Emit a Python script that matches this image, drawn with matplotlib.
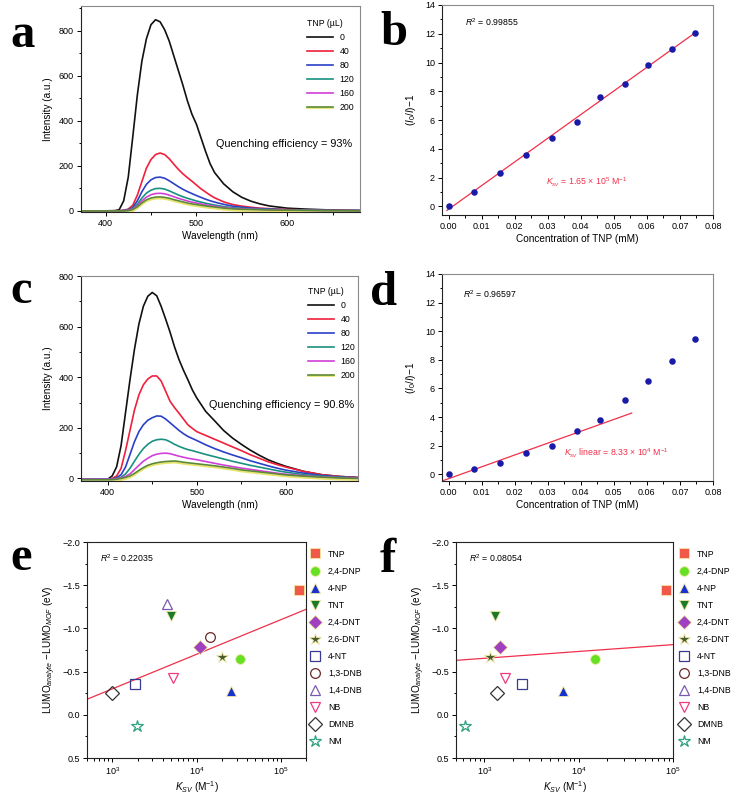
"""Fluorescence quenching by TNP: spectra, Stern-Volmer plots and LUMO vs Ksv."""
import numpy as np
import matplotlib
matplotlib.use("Agg")
import matplotlib.pyplot as plt
from matplotlib import patheffects as pe
from matplotlib.ticker import MultipleLocator, LogLocator, NullFormatter, FuncFormatter

plt.rcParams["font.family"] = ["Liberation Sans", "DejaVu Sans"]
plt.rcParams["mathtext.fontset"] = "custom"
plt.rcParams["mathtext.rm"] = "Liberation Sans"
plt.rcParams["mathtext.it"] = "Liberation Sans:italic"
plt.rcParams["mathtext.bf"] = "Liberation Sans:bold"

W, H = 734, 799

# ---- spectra (a, c) ----
tnp_ul = ["0", "40", "80", "120", "160", "200"]
spec_colors = ["#111111", "#f0203c", "#2a40c8", "#1a9080", "#d040d8", "#5c8a34"]

wl_a = [373, 400, 410, 415, 420, 425, 430, 435, 440, 445, 450, 455, 460, 465, 470, 475, 480, 485,
        490, 495, 500, 505, 510, 515, 520, 530, 540, 550, 560, 570, 580, 600, 620, 640, 660, 680]
int_a_0 = [0, 0, 1, 5, 45, 150, 330, 515, 665, 765, 827, 849, 840, 805, 755, 690, 625, 560,
           490, 430, 385, 325, 265, 210, 170, 120, 85, 60, 43, 31, 22, 12, 8, 5, 3, 2]
int_a_40 = [0, 0, 0, 1, 3, 8, 25, 70, 130, 190, 228, 250, 257, 250, 232, 208, 185, 165,
            148, 132, 115, 98, 84, 70, 58, 40, 28, 21, 16, 12, 10, 6, 4, 3, 2, 1]
int_a_80 = [0, 0, 0, 0, 2, 5, 15, 45, 85, 118, 138, 148, 150, 145, 134, 121, 108, 96,
            86, 77, 68, 60, 52, 45, 39, 29, 21, 16, 12, 10, 8, 5, 3, 2, 1, 1]
int_a_120 = [0, 0, 0, 0, 1, 3, 10, 30, 57, 79, 92, 99, 100, 97, 89, 80, 71, 63,
             56, 50, 44, 39, 34, 30, 26, 19, 14, 11, 9, 7, 6, 4, 3, 2, 1, 1]
int_a_160 = [0, 0, 0, 0, 1, 2, 8, 23, 44, 61, 72, 77, 78, 76, 70, 63, 56, 50,
             44, 39, 35, 31, 27, 24, 21, 15, 11, 9, 7, 6, 5, 3, 2, 1, 1, 1]
int_a_200 = [0, 0, 0, 0, 0, 1, 6, 18, 35, 49, 57, 61, 62, 60, 56, 50, 45, 40,
             35, 31, 28, 25, 22, 19, 17, 12, 9, 7, 6, 5, 4, 3, 2, 1, 1, 0]

wl_c = [370, 400, 405, 410, 415, 420, 425, 430, 435, 440, 445, 450, 455, 460, 465, 470, 475, 480,
        485, 490, 495, 500, 510, 520, 530, 540, 550, 560, 570, 580, 590, 600, 620, 640, 660, 680]
int_c_0 = [-3, -3, 10, 46, 130, 260, 390, 510, 610, 680, 720, 735, 722, 680, 630, 578, 520, 470,
           428, 390, 350, 318, 265, 228, 190, 160, 135, 112, 92, 74, 60, 48, 28, 15, 8, 4]
int_c_40 = [-3, -3, 0, 10, 40, 110, 190, 270, 330, 370, 393, 405, 405, 385, 345, 305, 280, 258,
            235, 212, 198, 185, 170, 155, 140, 125, 110, 94, 80, 66, 55, 45, 28, 15, 8, 4]
int_c_80 = [-3, -3, -2, 3, 15, 45, 95, 145, 185, 212, 230, 240, 247, 246, 235, 220, 205, 190,
            177, 166, 158, 150, 133, 118, 105, 93, 82, 70, 60, 50, 41, 33, 21, 12, 6, 3]
int_c_120 = [-3, -3, -3, 0, 5, 18, 40, 68, 95, 118, 135, 147, 153, 155, 153, 145, 135, 127,
             120, 114, 110, 105, 95, 86, 77, 68, 60, 52, 45, 38, 31, 25, 15, 9, 5, 2]
int_c_160 = [-3, -3, -3, -1, 2, 8, 18, 35, 52, 68, 80, 90, 96, 99, 100, 98, 93, 88,
             84, 80, 77, 74, 67, 60, 53, 47, 41, 36, 31, 26, 21, 17, 11, 6, 3, 1]
int_c_200 = [-5, -5, -5, -3, 0, 4, 10, 20, 32, 43, 52, 58, 62, 65, 67, 68, 69, 67,
             64, 62, 60, 58, 54, 50, 45, 40, 34, 30, 26, 22, 18, 14, 9, 5, 2, 0]

# ---- Stern-Volmer (b, d) ----
conc_tnp = [0.0, 0.0078, 0.0157, 0.0234, 0.0312, 0.0389, 0.0458, 0.0534, 0.0604, 0.0675, 0.0745]
sv_b = [0.0, 1.0, 2.31, 3.59, 4.75, 5.86, 7.57, 8.52, 9.84, 10.93, 12.04]
sv_d = [0.0, 0.35, 0.82, 1.47, 1.98, 3.06, 3.76, 5.16, 6.49, 7.93, 9.47]
fit_b = (164.5, -0.20)      # slope, intercept
fit_d = (82.8, -0.307)
fit_d_range = (-0.002, 0.0554)

# ---- LUMO difference vs Ksv (e, f) ----
analytes = ["TNP", "2,4-DNP", "4-NP", "TNT", "2,4-DNT", "2,6-DNT", "4-NT",
            "1,3-DNB", "1,4-DNB", "NB", "DMNB", "NM"]
lumo_diff = [-1.44, -0.646, -0.27, -1.146, -0.79, -0.673, -0.354,
             -0.904, -1.28, -0.43, -0.25, 0.135]
ksv_e = [1.63e5, 3.28e4, 2.54e4, 5.04e3, 1.1e4, 1.99e4, 1845,
         1.44e4, 4.48e3, 5.27e3, 1000, 1990]
ksv_f = [8.43e4, 1.5e4, 6.76e3, 1.3e3, 1.47e3, 1.16e3, 2.51e3,
         np.nan, np.nan, 1.67e3, 1.36e3, 630]
fit_e = (0.90, -0.40)       # intercept, slope vs log10(Ksv)
fit_f = (-0.417, -0.079)

mk_shape = ["s", "o", "^", "v", "D", "*", "s", "o", "^", "v", "D", "*"]
mk_color = ["#f0584a", "#66e022", "#1830d0", "#1a7a2a", "#a040c0", "#4a5a30",
            "#3a3a90", "#6a2a2a", "#7a5ab0", "#f03a80", "#333333", "#30a080"]
mk_filled = [True] * 6 + [False] * 6

red = "#f0304a"
dot = "#1a1aa8"
MINUS = "\u2212"
TIMES = "\u00d7"

fig = plt.figure(figsize=(W / 100, H / 100), dpi=100)


def add_ax(l, t, r, b):
    return fig.add_axes([l / W, 1 - b / H, (r - l) / W, (b - t) / H])


def style(ax, gray=True):
    for s in ["top", "right"]:
        ax.spines[s].set_color("#8a8a8a" if gray else "#222222")
    for s in ["left", "bottom"]:
        ax.spines[s].set_color("#222222")
    for s in ax.spines.values():
        s.set_linewidth(0.8)
    ax.tick_params(which="both", direction="out", labelsize=6.5, width=0.7,
                   top=False, right=False, pad=2)
    ax.tick_params(which="major", length=3)
    ax.tick_params(which="minor", length=1.8)


def spectra(ax, wl, curves, ylim, xlim, qe_text, qe_xy, leg_xy):
    for lab, col, y in zip(tnp_ul, spec_colors, curves):
        kw = {}
        if lab == "200":
            kw["path_effects"] = [pe.SimpleLineShadow(offset=(0, -1.2), shadow_color="#e8e46a",
                                                      alpha=1.0), pe.Normal()]
        ax.plot(wl, y, color=col, lw=1.2, label=lab, **kw)
    ax.set_xlim(*xlim)
    ax.set_ylim(*ylim)
    ax.xaxis.set_major_locator(MultipleLocator(100))
    ax.xaxis.set_minor_locator(MultipleLocator(50))
    ax.yaxis.set_major_locator(MultipleLocator(200))
    ax.yaxis.set_minor_locator(MultipleLocator(100))
    ax.set_xlabel("Wavelength (nm)", fontsize=7.2, labelpad=2)
    ax.set_ylabel("Intensity (a.u.)", fontsize=7.2, labelpad=4)
    ax.text(*qe_xy, qe_text, fontsize=7.8, va="center", ha="left")
    ax.legend(title="TNP (\u00b5L)", loc="upper left", bbox_to_anchor=leg_xy,
              frameon=False, fontsize=6.3, title_fontsize=6.3, handlelength=3.0,
              handletextpad=0.7, labelspacing=0.56, borderpad=0, borderaxespad=0,
              alignment="left")
    style(ax)


def stern_volmer(ax, y, fit, xr, r2_text, r2_xy, k_text, k_xy):
    ax.set_xlim(-0.002, 0.08)
    ax.set_ylim(-0.6, 14)
    xs = np.array(xr)
    ax.plot(xs, fit[0] * xs + fit[1], color=red, lw=0.9, zorder=2)
    ax.scatter(conc_tnp, y, s=22, color=dot, zorder=3, linewidths=0)
    ax.xaxis.set_major_locator(MultipleLocator(0.01))
    ax.xaxis.set_minor_locator(MultipleLocator(0.005))
    ax.yaxis.set_major_locator(MultipleLocator(2))
    ax.yaxis.set_minor_locator(MultipleLocator(1))
    ax.xaxis.set_major_formatter(FuncFormatter(lambda v, p: f"{v:.2f}"))
    ax.set_xlabel("Concentration of TNP (mM)", fontsize=7.2, labelpad=2)
    ax.set_ylabel(r"($\mathit{I}_0$/$\mathit{I}$)" + MINUS + "1", fontsize=7.2, labelpad=5)
    ax.text(*r2_xy, r2_text, fontsize=6.3, va="center", ha="left")
    ax.text(*k_xy, k_text, fontsize=6.3, va="center", ha="left", color=red)
    style(ax)


def lumo_panel(ax, ksv, fit, xlim, r2_text, leg_x):
    ax.set_xscale("log")
    ax.set_xlim(*xlim)
    ax.set_ylim(0.5, -2.0)
    xs = np.logspace(np.log10(xlim[0]), np.log10(xlim[1]), 50)
    ax.plot(xs, fit[0] + fit[1] * np.log10(xs), color=red, lw=0.9, zorder=2)
    for name, k, v, m, c, f in zip(analytes, ksv, lumo_diff, mk_shape, mk_color, mk_filled):
        ms = 9 if m == "*" else 7
        ax.plot([k], [v], ls="none", marker=m, ms=ms, label=name,
                mfc=c if f else "none", mec="#f0e8a0" if f else c, mew=0.6 if f else 0.9,
                zorder=3)
    ax.yaxis.set_major_locator(MultipleLocator(0.5))
    ax.yaxis.set_minor_locator(MultipleLocator(0.25))
    ax.yaxis.set_major_formatter(FuncFormatter(lambda v, p: f"{v:.1f}".replace("-", MINUS)))
    ax.xaxis.set_major_locator(LogLocator(base=10, numticks=10))
    ax.xaxis.set_minor_locator(LogLocator(base=10, subs=np.arange(2, 10), numticks=10))
    ax.xaxis.set_minor_formatter(NullFormatter())
    ax.set_xlabel(r"$K_{SV}$ (M$^{-1}$)", fontsize=7.2, labelpad=2)
    ax.set_ylabel(r"LUMO$_{\mathit{analyte}}$ " + MINUS + r"LUMO$_{\mathit{MOF}}$ (eV)",
                  fontsize=7.2, labelpad=3)
    ax.text(0.06, 0.925, r2_text, transform=ax.transAxes, fontsize=6.3, va="center")
    ax.legend(loc="upper left", bbox_to_anchor=(leg_x, 0.965), frameon=False, fontsize=6.3,
              handlelength=1.0, handletextpad=1.0, labelspacing=0.92, borderpad=0,
              borderaxespad=0, numpoints=1)
    style(ax, gray=False)


ax_a = add_ax(81, 6, 360, 212)
spectra(ax_a, wl_a, [int_a_0, int_a_40, int_a_80, int_a_120, int_a_160, int_a_200],
        (-5, 910), (373, 680), "Quenching efficiency = 93%", (522, 298), (0.81, 0.935))

ax_c = add_ax(81, 276, 358, 481)
spectra(ax_c, wl_c, [int_c_0, int_c_40, int_c_80, int_c_120, int_c_160, int_c_200],
        (-10, 800), (370, 681), "Quenching efficiency = 90.8%", (514, 291), (0.82, 0.945))

ax_b = add_ax(442, 5, 713, 215)
stern_volmer(ax_b, sv_b, fit_b, (-0.0005, 0.0745), r"$R^2$ = 0.99855", (0.005, 12.8),
             r"$K_{sv}$ = 1.65 " + TIMES + r" 10$^5$ M$^{-1}$", (0.0295, 1.67))

ax_d = add_ax(442, 274, 713, 481)
stern_volmer(ax_d, sv_d, fit_d, fit_d_range, r"$R^2$ = 0.96597", (0.0045, 12.6),
             r"$K_{sv}$ linear = 8.33 " + TIMES + r" 10$^4$ M$^{-1}$", (0.035, 1.45))
ax_d.set_ylim(-0.47, 14)

ax_e = add_ax(87, 542, 306, 758)
lumo_panel(ax_e, ksv_e, fit_e, (500, 2e5), r"$R^2$ = 0.22035", 1.02)

ax_f = add_ax(456, 542, 673, 758)
lumo_panel(ax_f, ksv_f, fit_f, (500, 1e5), r"$R^2$ = 0.08054", 1.03)

for lab, x, y in [("a", 10, 47), ("b", 380, 45), ("c", 10, 303),
                  ("d", 370, 305), ("e", 10, 570), ("f", 380, 572)]:
    fig.text(x / W, 1 - y / H, lab, fontsize=35, fontweight="bold",
             family="Liberation Serif", ha="left", va="baseline")

fig.savefig("out.png", dpi=100)
